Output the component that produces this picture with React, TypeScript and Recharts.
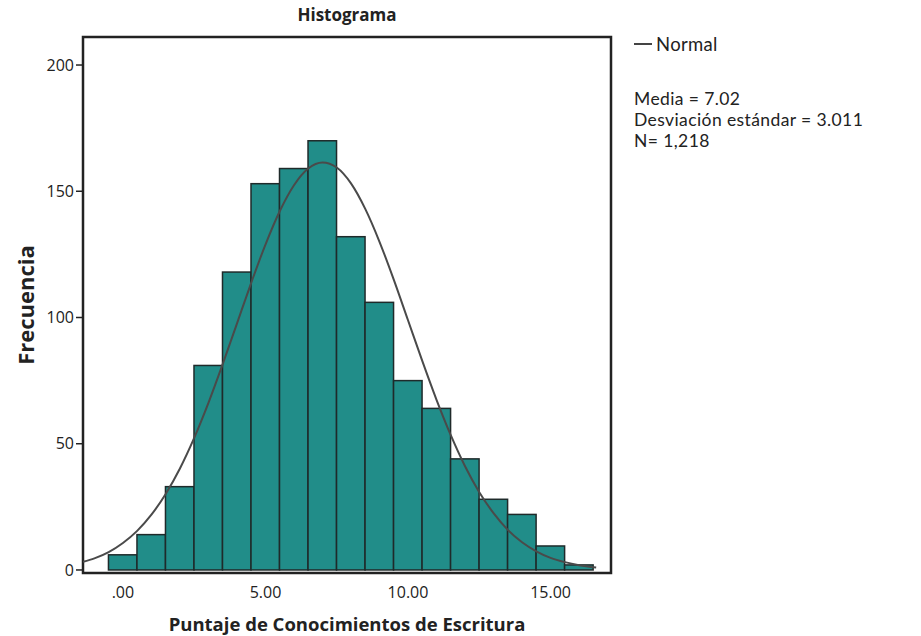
import { ComposedChart, Bar, Line, XAxis, YAxis, ReferenceArea, Label } from 'recharts'

const FONT = '"Open Sans", "Noto Sans", sans-serif'
const SIDE_FONT = 'Lato, "Open Sans", sans-serif'
const TEAL = '#218d89'
const EDGE = '#1f2a2a'
const INK = '#222222'

// histogram bins (score) and counts
const bins = [0, 1, 2, 3, 4, 5, 6, 7, 8, 9, 10, 11, 12, 13, 14, 15, 16]
const counts = [6, 14, 33, 81, 118, 153, 159, 170, 132, 106, 75, 64, 44, 28, 22, 9.5, 2]

// fitted normal curve
const curveX = [-1.4, -1, -0.5, 0, 0.5, 1, 1.5, 2, 2.5, 3, 3.5, 4, 4.5, 5, 5.5, 6, 6.5, 7, 7.5, 8, 8.5, 9, 9.5, 10, 10.5, 11, 11.5, 12, 12.5, 13, 13.5, 14, 14.5, 15, 15.5, 16, 16.6]
const curveY = [3.2, 4.6, 7.1, 10.7, 15.5, 21.9, 30.1, 40.2, 52.3, 66.2, 81.5, 97.6, 113.7, 128.9, 142.1, 152.4, 159, 161.4, 159.4, 153.1, 143, 130, 115, 98.9, 82.8, 67.4, 53.4, 41.1, 30.8, 22.5, 15.9, 11, 7.4, 4.8, 3.1, 1.9, 1]

const xTicks = [0, 5, 10, 15]
const xTickLabels = ['.00', '5.00', '10.00', '15.00']
const yTicks = [0, 50, 100, 150, 200]

const X_DOMAIN: [number, number] = [-1.4, 17.12]
const Y_DOMAIN: [number, number] = [-1.2, 211.1]

const barRows = bins.map((x, i) => ({ x, freq: counts[i] }))
const curveRows = curveX.map((x, i) => ({ x, normal: curveY[i] }))

const W = 921
const H = 636
const M = { top: 37, right: 310, bottom: 0, left: 23 }
const plotW = W - M.left - 60 - M.right
const binW = plotW / (X_DOMAIN[1] - X_DOMAIN[0])

// bins touch each other: widen each rect to a full bin around its centre
function BinRect(props: any) {
    const { x, y, width, height } = props
    if (!height || height <= 0 || isNaN(y)) return null
    const cx = x + width / 2
    return <rect x={cx - binW / 2} y={y} width={binW} height={height} fill={TEAL} stroke={EDGE} strokeWidth={1.5} />
}

function YTitle(props: any) {
    const vb = props.viewBox || {}
    const cx = 25
    const cy = vb.y + vb.height / 2
    return (
        <text x={cx} y={cy} transform={`rotate(-90 ${cx} ${cy})`} textAnchor="middle" dominantBaseline="central"
            style={{ fontFamily: FONT, fontSize: 22, fontWeight: 700, fill: INK }}>
            Frecuencia
        </text>
    )
}

export default function App() {
    return (
        <div style={{ position: 'absolute', left: 0, top: 0, width: W, height: H, background: '#fff', fontFamily: FONT }}>
            <div style={{ position: 'absolute', left: 83, width: 528, top: 3, textAlign: 'center', fontSize: 17, fontWeight: 700, color: INK }}>
                Histograma
            </div>
            <ComposedChart width={W} height={H} data={barRows} margin={M} barCategoryGap={0} barGap={0}>
                <XAxis
                    dataKey="x"
                    type="number"
                    domain={X_DOMAIN}
                    allowDataOverflow
                    ticks={xTicks}
                    tickFormatter={(v) => xTickLabels[xTicks.indexOf(v)]}
                    tickLine={false}
                    axisLine={false}
                    height={63}
                    tickMargin={8}
                    tick={{ fill: INK, fontSize: 16, fontFamily: FONT }}
                >
                    <Label value="Puntaje de Conocimientos de Escritura" position="insideBottom" offset={5}
                        style={{ fontFamily: FONT, fontSize: 18.5, fontWeight: 700, fill: INK }} />
                </XAxis>
                <YAxis
                    type="number"
                    domain={Y_DOMAIN}
                    allowDataOverflow
                    ticks={yTicks}
                    width={60}
                    tickSize={7}
                    tickLine={{ stroke: INK, strokeWidth: 1.5 }}
                    axisLine={false}
                    tick={{ fill: INK, fontSize: 16, fontFamily: FONT }}
                    label={<YTitle />}
                />
                <Bar dataKey="freq" fill={TEAL} shape={<BinRect />} isAnimationActive={false} />
                <Line data={curveRows} dataKey="normal" type="monotone" stroke="#4a4a4a" strokeWidth={2} dot={false} activeDot={false} isAnimationActive={false} />
                <ReferenceArea x1={X_DOMAIN[0]} x2={X_DOMAIN[1]} y1={Y_DOMAIN[0]} y2={Y_DOMAIN[1]} fill="none" fillOpacity={0} stroke={INK} strokeWidth={2.5} ifOverflow="visible" />
            </ComposedChart>
            <div style={{ position: 'absolute', left: 634, top: 33, fontSize: 18.5, color: INK, display: 'flex', alignItems: 'center', fontFamily: SIDE_FONT, letterSpacing: 0.3 }}>
                <span style={{ display: 'inline-block', width: 18, height: 1.5, background: '#444', marginRight: 4 }} />
                Normal
            </div>
            <div style={{ position: 'absolute', left: 634, top: 88, fontSize: 17.5, lineHeight: '21px', color: INK, fontFamily: SIDE_FONT, letterSpacing: 0.4 }}>
                <div>Media = 7.02</div>
                <div>Desviación estándar = 3.011</div>
                <div>N= 1,218</div>
            </div>
        </div>
    )
}
